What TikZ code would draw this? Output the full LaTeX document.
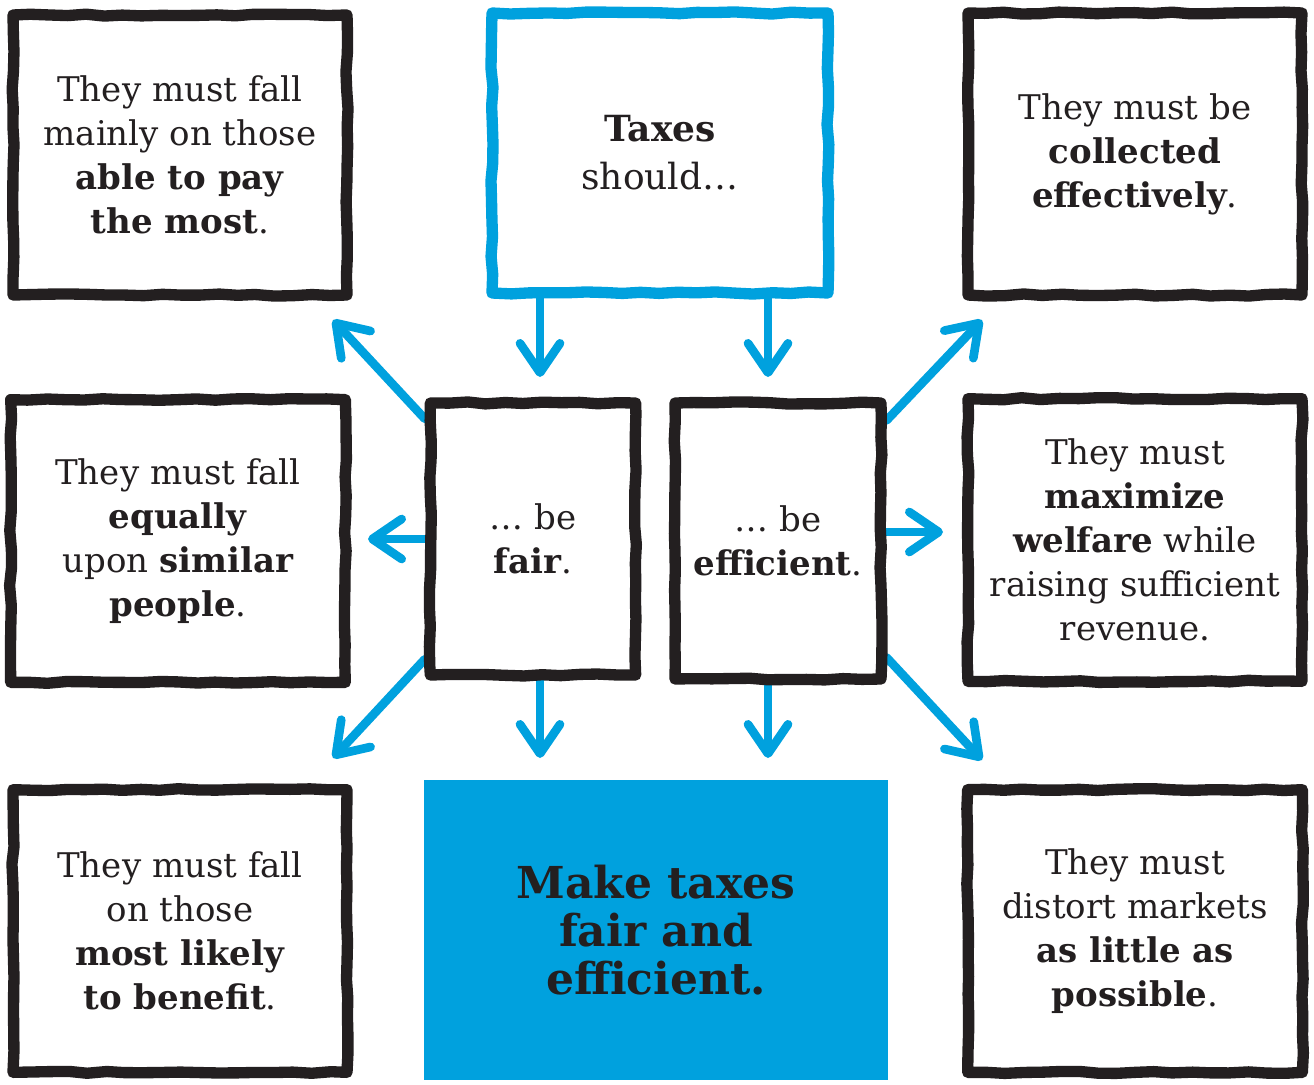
\documentclass[tikz,border=0pt]{standalone}
\usepackage{fontspec}
\setmainfont{DejaVu Serif}
\usetikzlibrary{arrows.meta,decorations.pathmorphing,calc,backgrounds}
\definecolor{ink}{HTML}{231F20}
\definecolor{tblue}{HTML}{00A1DE}
\begin{document}
\begin{tikzpicture}[x=0.75pt,y=-0.75pt,
  sk/.style={draw=ink, line width=8.5pt, decorate,
    decoration={random steps,segment length=14pt,amplitude=0.8pt},
    line join=round, text=ink, align=center,
    inner sep=0pt, font=\fontsize{25.5}{33}\selectfont},
  skb/.style={sk, draw=tblue, font=\fontsize{27}{36}\selectfont},
  arr/.style={draw=tblue, line width=6.5pt, line cap=round,
    -{Straight Barb[length=22pt,width=30pt,round]}},
]
\useasboundingbox (0,0) rectangle (1314,1085);
\begin{pgfonlayer}{background}
\fill[white] (0,0) rectangle (1314,1085);
\end{pgfonlayer}

% boxes
\node[sk, minimum width=250.5pt, minimum height=210pt] (tl) at (180,155)
  {They must fall\\ mainly on those\\ \textbf{able to pay}\\ \textbf{the most}.};
\node[skb, minimum width=252pt, minimum height=210pt] (tc) at (660,153)
  {\textbf{Taxes}\\ should\ldots};
\node[sk, minimum width=250.5pt, minimum height=211.5pt] (tr) at (1135,154)
  {They must be\\ \textbf{collected}\\ \textbf{effectively}.};
\node[sk, minimum width=251pt, minimum height=212pt] (ml) at (178,541)
  {They must fall\\ \textbf{equally}\\ upon \textbf{similar}\\ \textbf{people}.};
\node[sk, minimum width=154pt, minimum height=204pt] (fair) at (533,539)
  {\ldots\ be\\ \textbf{fair}.};
\node[sk, minimum width=154.5pt, minimum height=207pt] (eff) at (778,541)
  {\ldots\ be\\ \textbf{efficient}.};
\node[sk, minimum width=250.5pt, minimum height=212pt] (mr) at (1135,540)
  {They must\\ \textbf{maximize}\\ \textbf{welfare} while\\ raising sufficient\\ revenue.};
\node[sk, minimum width=250.5pt, minimum height=212pt] (bl) at (180,931)
  {They must fall\\ on those\\ \textbf{most likely}\\ \textbf{to benefit}.};
\node[fill=tblue, text=ink, align=center, inner sep=0pt,
  minimum width=348pt, minimum height=225pt,
  font=\fontsize{33}{36}\selectfont\bfseries] (bc) at (656,930)
  {Make taxes\\ fair and\\ efficient.};
\node[sk, minimum width=251pt, minimum height=212pt] (br) at (1135,931)
  {They must\\ distort markets\\ \textbf{as little as}\\ \textbf{possible}.};

% arrow tips
\coordinate (a1) at (540,377);
\coordinate (a2) at (768,377);
\coordinate (ul) at (333,320);
\coordinate (ur) at (982,320);
\coordinate (lt) at (368,539);
\coordinate (rt) at (943,532);
\coordinate (dl) at (333,758);
\coordinate (d1) at (540,758);
\coordinate (d2) at (768,758);
\coordinate (dr) at (982,760);

\begin{pgfonlayer}{background}
\draw[arr] (a1 |- tc.south) -- (a1);
\draw[arr] (a2 |- tc.south) -- (a2);
\draw[arr] (fair.132) -- (ul);
\draw[arr] (eff.48) -- (ur);
\draw[arr] (fair.west) -- (lt);
\draw[arr] (rt -| eff.east) -- (rt);
\draw[arr] (fair.228) -- (dl);
\draw[arr] (d1 |- fair.south) -- (d1);
\draw[arr] (d2 |- eff.south) -- (d2);
\draw[arr] (eff.313) -- (dr);
\end{pgfonlayer}
\end{tikzpicture}
\end{document}
